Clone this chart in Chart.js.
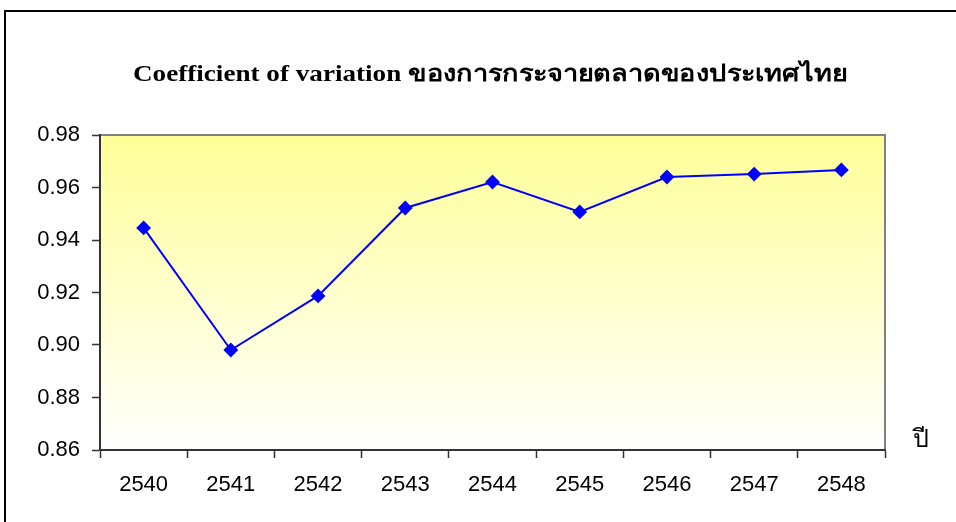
<!DOCTYPE html>
<html>
<head>
<meta charset="utf-8">
<script src="https://cdn.jsdelivr.net/npm/chart.js@4"></script>
<style>
  html, body { margin: 0; padding: 0; background: #fff; }
  #wrap { width: 956px; height: 522px; position: relative; }
</style>
</head>
<body>
<div id="wrap"><canvas id="chart" width="956" height="522"></canvas></div>
<script>
const years = ["2540", "2541", "2542", "2543", "2544", "2545", "2546", "2547", "2548"];
const cvValues = [0.9446, 0.8981, 0.9187, 0.9522, 0.9621, 0.9507, 0.9640, 0.9651, 0.9667];
const titleText = "Coefficient of variation ของการกระจายตลาดของประเทศไทย";
const xAxisName = "ปี";

// พื้นหลังไล่สี, กรอบ, ชื่อกราฟ
const decor = {
  id: "decor",
  beforeDraw(c) {
    const { ctx, chartArea: a } = c;
    const g = ctx.createLinearGradient(0, a.top, 0, a.bottom);
    g.addColorStop(0, "#ffff99");
    g.addColorStop(1, "#ffffff");
    ctx.save();
    ctx.fillStyle = g;
    ctx.fillRect(a.left, a.top, a.right - a.left, a.bottom - a.top);
    // กรอบด้านบนและขวา
    ctx.strokeStyle = "#808080";
    ctx.lineWidth = 2;
    ctx.beginPath();
    ctx.moveTo(a.left, a.top);
    ctx.lineTo(a.right, a.top);
    ctx.lineTo(a.right, a.bottom);
    ctx.stroke();
    ctx.restore();
  },
  afterDraw(c) {
    const { ctx } = c;
    ctx.save();
    ctx.strokeStyle = "#000";
    ctx.lineWidth = 2;
    ctx.strokeRect(5, 11, 1200, 1200);
    ctx.fillStyle = "#000";
    ctx.textAlign = "center";
    ctx.textBaseline = "middle";
    // ตัวอักษรในต้นฉบับถูกยืดแนวนอน
    ctx.save();
    ctx.translate(490, 75);
    ctx.scale(1.18, 1);
    ctx.font = "bold 23px 'Liberation Serif', 'Times New Roman', serif";
    ctx.fillText(titleText, 0, 0);
    ctx.restore();
    ctx.font = "25px 'Liberation Serif', serif";
    ctx.fillText(xAxisName, 921, 440);
    ctx.restore();
  },
};

const ctx = document.getElementById("chart").getContext("2d");
const chart = new Chart(ctx, {
  type: "line",
  data: {
    labels: years,
    datasets: [{
      data: cvValues,
      borderColor: "#0000ff",
      backgroundColor: "#0000ff",
      borderWidth: 2,
      pointStyle: "rectRot",
      pointRadius: 6,
      pointHoverRadius: 6,
      tension: 0,
      fill: false,
    }],
  },
  options: {
    responsive: false,
    animation: false,
    layout: { padding: { top: 135, right: 71, left: 0, bottom: 0 } },
    plugins: { legend: { display: false }, tooltip: { enabled: false } },
    scales: {
      x: {
        offset: true,
        grid: { offset: true, drawOnChartArea: false, color: "#333", tickLength: 8, tickWidth: 1.5 },
        border: { color: "#333", width: 2 },
        ticks: { color: "#000", padding: 14, font: { family: "'Liberation Sans', Arial", size: 22 } },
        afterFit(s) { s.height = 72; },
      },
      y: {
        min: 0.86,
        max: 0.98,
        grid: { drawOnChartArea: false, color: "#333", tickLength: 8, tickWidth: 1.5 },
        border: { color: "#333", width: 2 },
        ticks: {
          stepSize: 0.02,
          color: "#000",
          padding: 12,
          font: { family: "'Liberation Sans', Arial", size: 22 },
          callback: (v) => v.toFixed(2),
        },
        afterFit(s) { s.width = 100; },
      },
    },
  },
  plugins: [decor],
});
</script>
</body>
</html>
